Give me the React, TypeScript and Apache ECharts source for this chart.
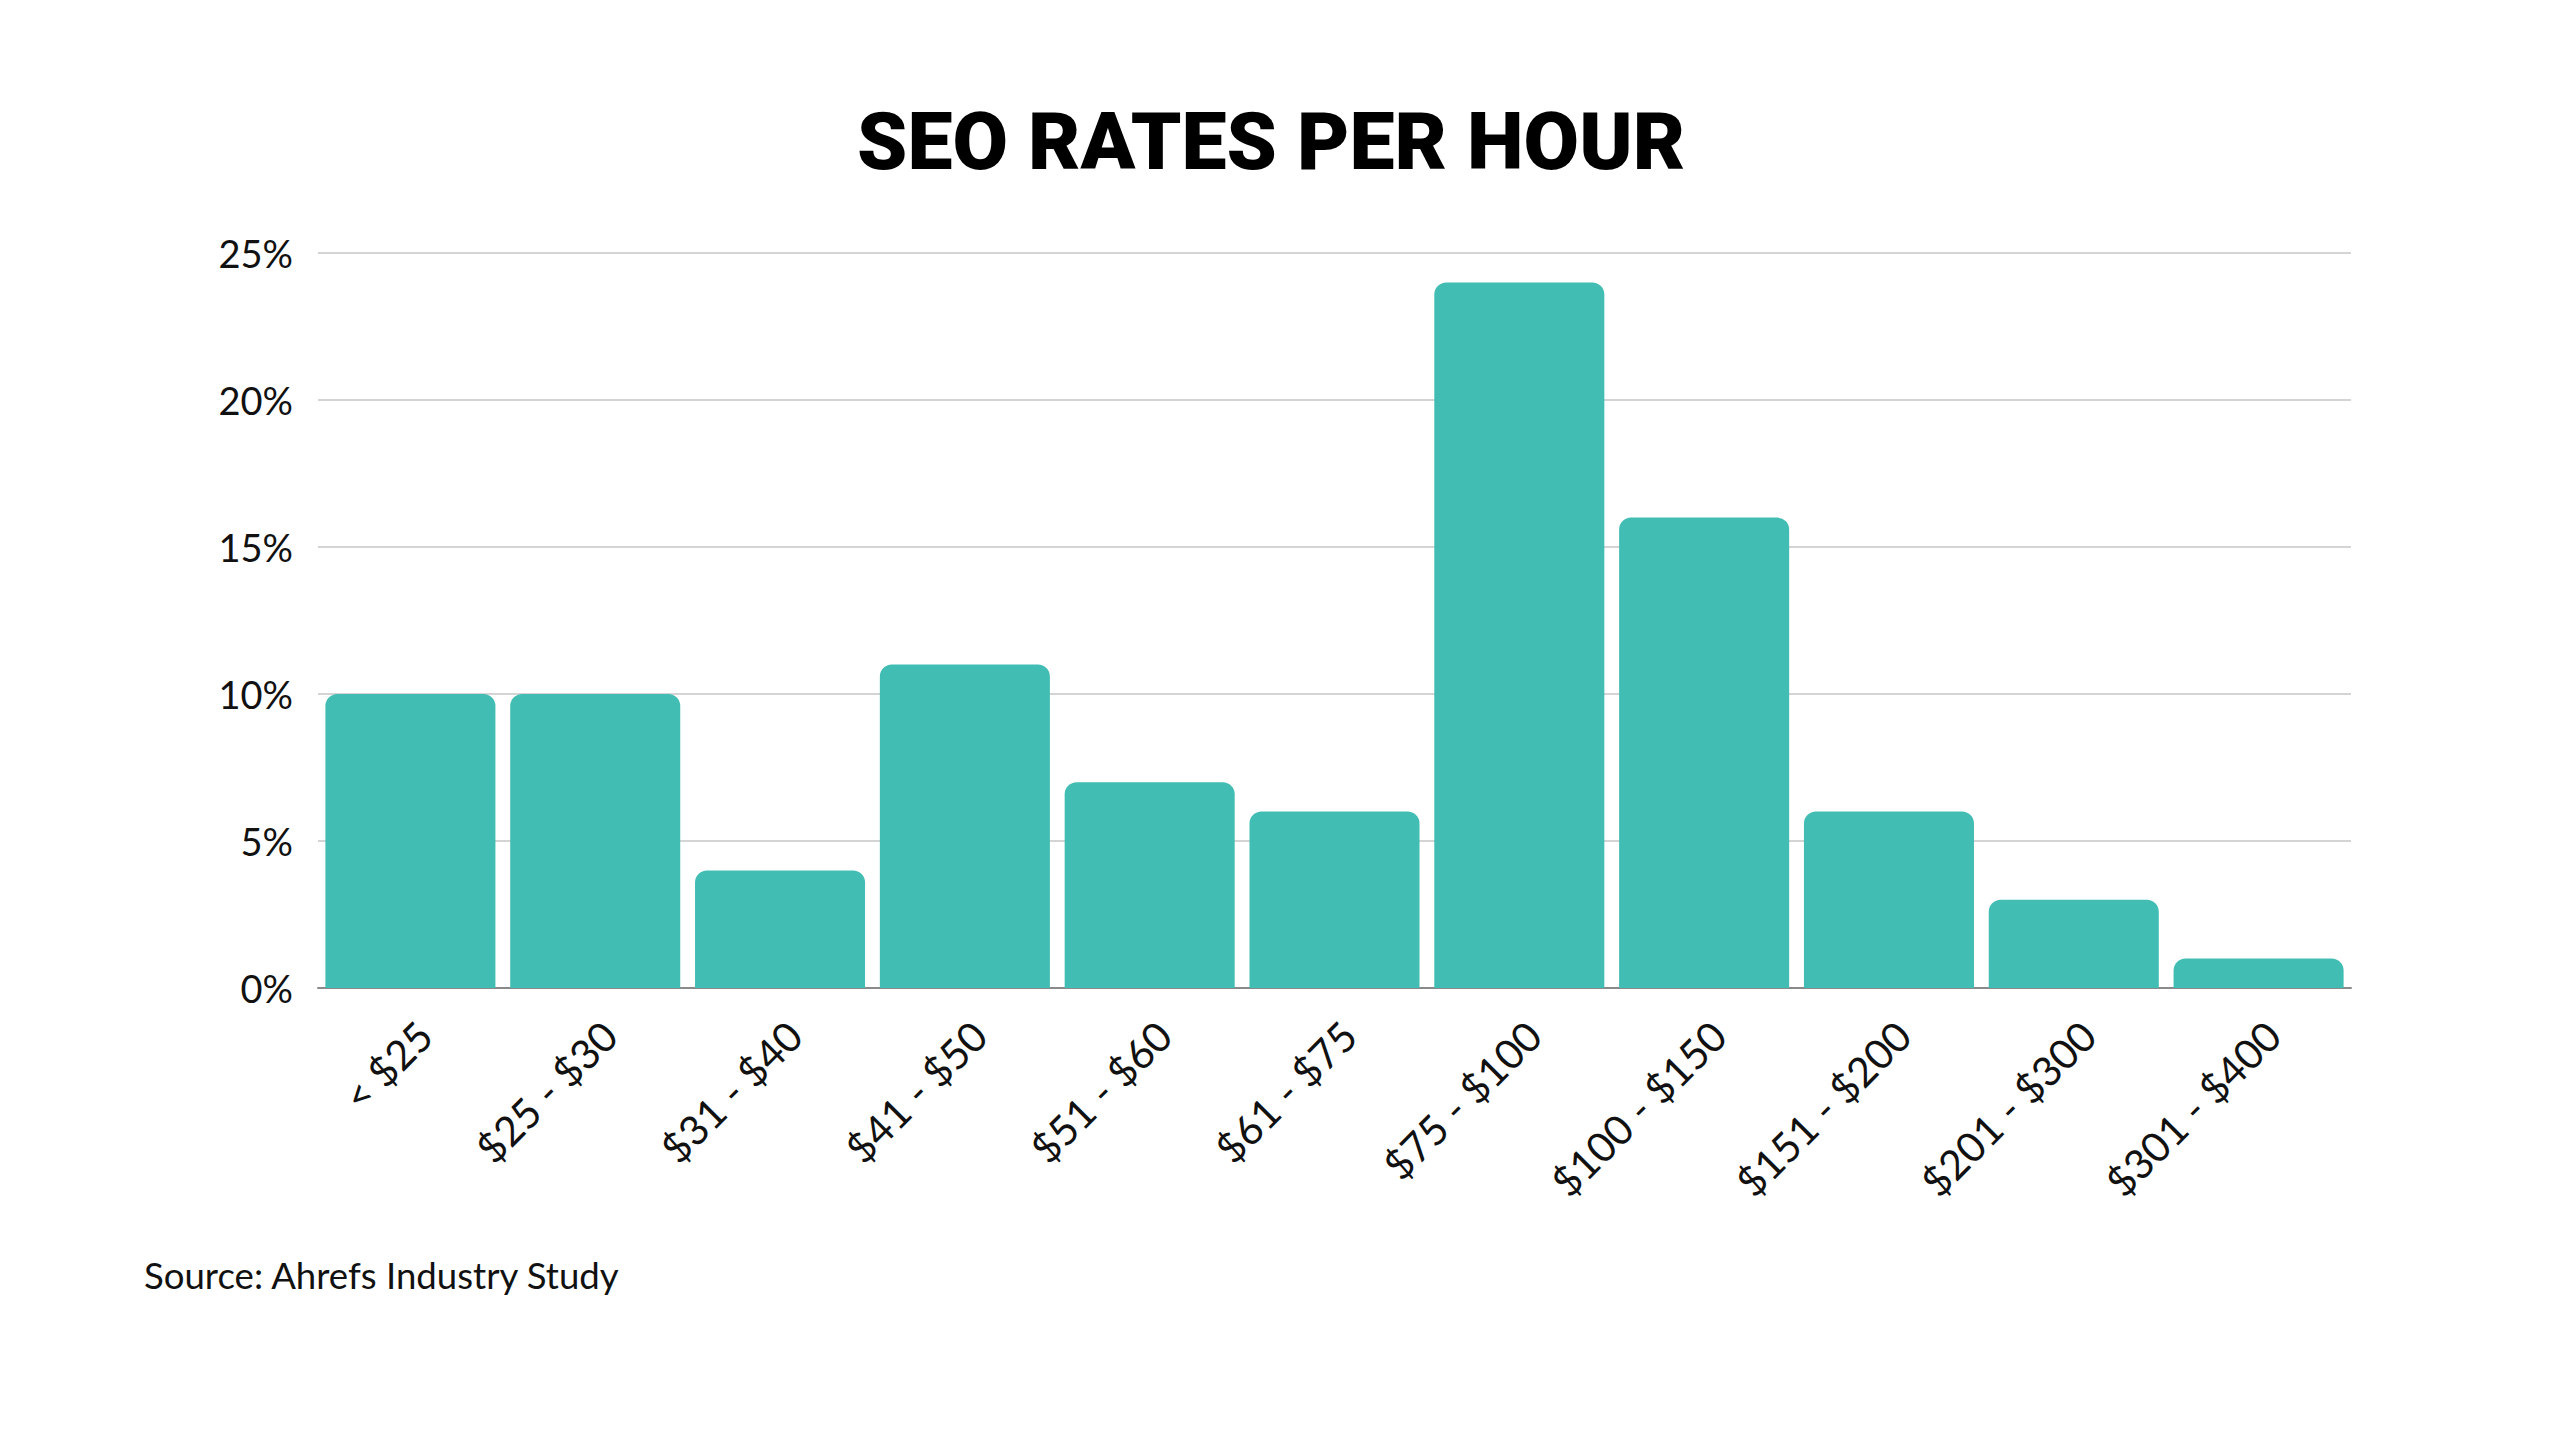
import React, { useEffect, useRef } from "react";
import * as echarts from "echarts";

const categories = ["< $25", "$25 - $30", "$31 - $40", "$41 - $50", "$51 - $60", "$61 - $75", "$75 - $100", "$100 - $150", "$151 - $200", "$201 - $300", "$301 - $400"];
const values = [10, 10, 4, 11, 7, 6, 24, 16, 6, 3, 1];
const titleText = "SEO RATES PER HOUR";
const sourceText = "Source: Ahrefs Industry Study";

export default function App() {
  const ref = useRef<HTMLDivElement>(null);
  useEffect(() => {
    document.body.style.margin = "0";
    const chart = echarts.init(ref.current!, null, { renderer: "svg" });
    chart.setOption({
      animation: false,
      backgroundColor: "#ffffff",
      title: {
        text: titleText,
        left: 852,
        top: 96,
        textStyle: { fontFamily: "Roboto", fontWeight: 900, fontSize: 80.5, color: "#000000" },
      },
      grid: { left: 318, right: 209, top: 253, bottom: 452, containLabel: false },
      xAxis: {
        type: "category",
        data: categories,
        axisTick: { show: false },
        axisLine: { show: true, lineStyle: { color: "#8a8a8a", width: 2 } },
        axisLabel: {
          rotate: 45,
          interval: 0,
          margin: 26,
          verticalAlign: "top",
          fontFamily: "Lato",
          fontSize: 41,
          color: "#111111",
        },
      },
      yAxis: {
        type: "value",
        min: 0,
        max: 25,
        interval: 5,
        axisLine: { show: false },
        axisTick: { show: false },
        splitLine: { lineStyle: { color: "#d4d4d4", width: 2 } },
        axisLabel: {
          formatter: "{value}%",
          margin: 25,
          fontFamily: "Lato",
          fontSize: 38,
          color: "#111111",
        },
      },
      series: [
        {
          type: "bar",
          data: values,
          barCategoryGap: "8%",
          itemStyle: { color: "#41BDB4", borderRadius: [12, 12, 0, 0] },
          z: 1,
        },
      ],
      graphic: [
        {
          type: "text",
          left: 144,
          top: 1256,
          style: { text: sourceText, fontFamily: "Lato", fontSize: 36.6, fill: "#111111" },
        },
      ],
    });
    return () => chart.dispose();
  }, []);
  return <div ref={ref} style={{ position: "fixed", left: 0, top: 0, width: 2560, height: 1440 }} />;
}
